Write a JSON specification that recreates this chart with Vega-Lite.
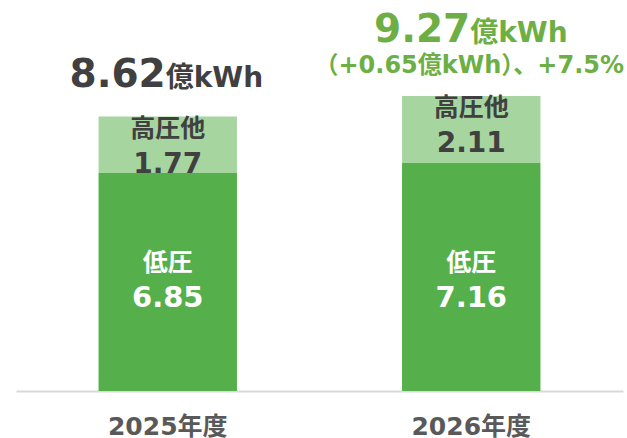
{
  "$schema": "https://vega.github.io/schema/vega-lite/v6.json",
  "width": 607,
  "height": 382,
  "autosize": {"type": "none"},
  "padding": {"left": 16, "top": 9, "right": 4, "bottom": 47},
  "background": "white",
  "config": {"view": {"stroke": null}, "font": "DejaVu Sans, Noto Sans CJK JP"},
  "datasets": {
    "bars": [
      {"year": "2025年度", "segment": "低圧", "value": 6.85},
      {"year": "2025年度", "segment": "高圧他", "value": 1.77},
      {"year": "2026年度", "segment": "低圧", "value": 7.16},
      {"year": "2026年度", "segment": "高圧他", "value": 2.11}
    ],
    "totals": [
      {"year": "2025年度", "total": 8.62, "unit": "億kWh", "note": ""},
      {"year": "2026年度", "total": 9.27, "unit": "億kWh", "note": "（+0.65億kWh）、+7.5%"}
    ]
  },
  "encoding": {
    "x": {
      "field": "year",
      "type": "nominal",
      "sort": ["2025年度", "2026年度"],
      "scale": {"paddingInner": 0.544, "paddingOuter": 0.272},
      "axis": {
        "title": null,
        "labelAngle": 0,
        "ticks": false,
        "grid": false,
        "domainColor": "#D9D9D9",
        "domainWidth": 2,
        "labelFont": "DejaVu Sans, Noto Sans CJK JP",
        "labelFontSize": 25,
        "labelFontWeight": "bold",
        "labelColor": "#595959",
        "labelBaseline": "alphabetic",
        "labelPadding": 43
      }
    }
  },
  "layer": [
    {
      "data": {"name": "bars"},
      "transform": [{"stack": "value", "groupby": ["year"], "sort": [{"field": "segment", "order": "ascending"}], "as": ["v0", "v1"]}],
      "mark": {"type": "bar"},
      "encoding": {
        "y": {"field": "v0", "type": "quantitative", "scale": {"domain": [0, 12], "nice": false}, "axis": null},
        "y2": {"field": "v1"},
        "color": {"field": "segment", "type": "nominal", "scale": {"domain": ["低圧", "高圧他"], "range": ["#55AF4B", "#A6D59F"]}, "legend": null}
      }
    },
    {
      "data": {"name": "bars"},
      "transform": [{"stack": "value", "groupby": ["year"], "sort": [{"field": "segment", "order": "ascending"}], "as": ["v0", "v1"]}, {"filter": "datum.segment == '低圧'"}],
      "mark": {"type": "text", "fontSize": 25, "fontWeight": "bold", "baseline": "middle", "dy": -128, "color": "#FFFFFF"},
      "encoding": {
        "y": {"field": "v0", "type": "quantitative"},
        "text": {"field": "segment"}
      }
    },
    {
      "data": {"name": "bars"},
      "transform": [{"stack": "value", "groupby": ["year"], "sort": [{"field": "segment", "order": "ascending"}], "as": ["v0", "v1"]}, {"filter": "datum.segment == '低圧'"}],
      "mark": {"type": "text", "fontSize": 29, "fontWeight": "bold", "baseline": "middle", "dy": -93, "color": "#FFFFFF"},
      "encoding": {
        "y": {"field": "v0", "type": "quantitative"},
        "text": {"field": "value", "type": "quantitative", "format": ".2f"}
      }
    },
    {
      "data": {"name": "bars"},
      "transform": [{"stack": "value", "groupby": ["year"], "sort": [{"field": "segment", "order": "ascending"}], "as": ["v0", "v1"]}, {"filter": "datum.segment == '高圧他'"}],
      "mark": {"type": "text", "fontSize": 25, "fontWeight": "bold", "baseline": "middle", "dy": 12, "color": "#404040"},
      "encoding": {
        "y": {"field": "v1", "type": "quantitative"},
        "text": {"field": "segment"}
      }
    },
    {
      "data": {"name": "bars"},
      "transform": [{"stack": "value", "groupby": ["year"], "sort": [{"field": "segment", "order": "ascending"}], "as": ["v0", "v1"]}, {"filter": "datum.segment == '高圧他'"}],
      "mark": {"type": "text", "fontSize": 28, "fontWeight": "bold", "baseline": "middle", "dy": 48, "color": "#404040"},
      "encoding": {
        "y": {"field": "v1", "type": "quantitative"},
        "text": {"field": "value", "type": "quantitative", "format": ".2f"}
      }
    },
    {
      "data": {"name": "totals"},
      "transform": [{"filter": "datum.year == '2025年度'"}],
      "mark": {"type": "text", "fontSize": 39, "fontWeight": "bold", "baseline": "alphabetic", "align": "right", "dx": -2, "dy": -30, "color": "#404040"},
      "encoding": {
        "y": {"field": "total", "type": "quantitative"},
        "text": {"field": "total", "type": "quantitative", "format": ".2f"}
      }
    },
    {
      "data": {"name": "totals"},
      "transform": [{"filter": "datum.year == '2025年度'"}],
      "mark": {"type": "text", "fontSize": 28, "fontWeight": "bold", "baseline": "alphabetic", "align": "left", "dx": -2, "dy": -30, "color": "#404040"},
      "encoding": {
        "y": {"field": "total", "type": "quantitative"},
        "text": {"field": "unit"}
      }
    },
    {
      "data": {"name": "totals"},
      "transform": [{"filter": "datum.year == '2026年度'"}],
      "mark": {"type": "text", "fontSize": 39, "fontWeight": "bold", "baseline": "alphabetic", "align": "right", "dx": -1, "dy": -54, "color": "#6DAF45"},
      "encoding": {
        "y": {"field": "total", "type": "quantitative"},
        "text": {"field": "total", "type": "quantitative", "format": ".2f"}
      }
    },
    {
      "data": {"name": "totals"},
      "transform": [{"filter": "datum.year == '2026年度'"}],
      "mark": {"type": "text", "fontSize": 28, "fontWeight": "bold", "baseline": "alphabetic", "align": "left", "dx": -1, "dy": -54, "color": "#6DAF45"},
      "encoding": {
        "y": {"field": "total", "type": "quantitative"},
        "text": {"field": "unit"}
      }
    },
    {
      "data": {"name": "totals"},
      "transform": [{"filter": "datum.year == '2026年度'"}],
      "mark": {"type": "text", "fontSize": 24, "fontWeight": "bold", "baseline": "alphabetic", "align": "center", "dx": -2, "dy": -23, "color": "#6DAF45"},
      "encoding": {
        "y": {"field": "total", "type": "quantitative"},
        "text": {"field": "note"}
      }
    }
  ]
}
